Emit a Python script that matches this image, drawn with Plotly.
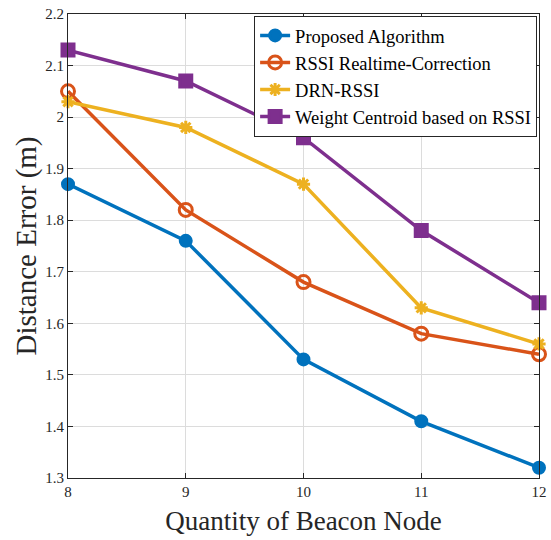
import plotly.graph_objects as go

x_nodes = [8, 9, 10, 11, 12]
proposed = [1.87, 1.76, 1.53, 1.41, 1.32]
rssi_rt = [2.05, 1.82, 1.68, 1.58, 1.54]
drn_rssi = [2.03, 1.98, 1.87, 1.63, 1.56]
weight_c = [2.13, 2.07, 1.96, 1.78, 1.64]

names = ["Proposed Algorithm", "RSSI Realtime-Correction", "DRN-RSSI", "Weight Centroid based on RSSI"]
colors = ["#0072BD", "#D95319", "#EDB120", "#7E2F8E"]
symbols = ["circle", "circle-open", "asterisk-open", "square"]
sizes = [11, 13, 11, 12]
series = [proposed, rssi_rt, drn_rssi, weight_c]

fig = go.Figure()
for n, c, s, sz, y in zip(names, colors, symbols, sizes, series):
    fig.add_trace(go.Scatter(
        x=x_nodes, y=y, name=n, mode="lines+markers",
        line=dict(color=c, width=3.5),
        marker=dict(symbol=s, size=sz, color=c, line=dict(color=c, width=3)),
        cliponaxis=False,
    ))

font = "Liberation Serif, Times New Roman, serif"
fig.update_layout(
    width=551, height=540,
    margin=dict(l=68, r=12, t=14, b=62),
    paper_bgcolor="white", plot_bgcolor="white",
    font=dict(family=font, color="#262626", size=15),
    legend=dict(x=0.996, y=0.996, xanchor="right", yanchor="top",
                bordercolor="#262626", borderwidth=1, bgcolor="white",
                font=dict(family=font, size=18.5, color="black"),
                tracegroupgap=0, itemwidth=30),
    showlegend=True,
)
axis_common = dict(
    showgrid=True, gridcolor="#DCDCDC", gridwidth=1,
    showline=True, linecolor="#262626", linewidth=1, mirror="ticks",
    ticks="inside", ticklen=5, tickcolor="#262626", automargin=False,
    ticklabeloverflow="allow",
    zeroline=False, tickfont=dict(family=font, size=15, color="#262626"),
)
fig.update_xaxes(range=[8, 12], dtick=1, tick0=8,
                 title=dict(text="Quantity of Beacon Node", font=dict(family=font, size=27, color="#262626"), standoff=12),
                 **axis_common)
fig.update_yaxes(range=[1.3, 2.2], dtick=0.1, tick0=1.3,
                 title=dict(text="Distance Error (m)", font=dict(family=font, size=29, color="#262626"), standoff=0),
                 **axis_common)

fig.write_html("out.html", config={"displayModeBar": False},
               post_script="document.body.style.margin='0px';document.body.style.overflow='hidden';")
